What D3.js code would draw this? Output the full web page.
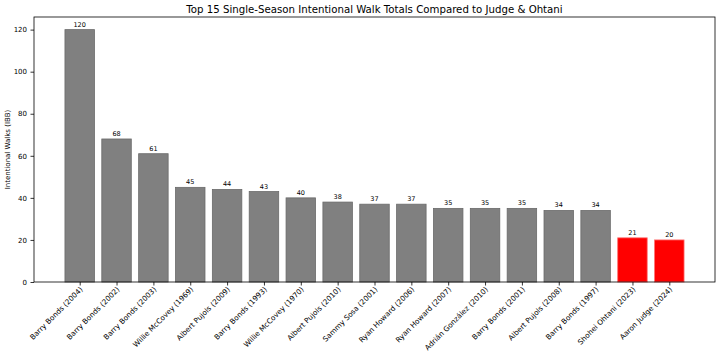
<!DOCTYPE html>
<html><head><meta charset="utf-8">
<script src="https://cdn.jsdelivr.net/npm/d3@7"></script>
<style>body{margin:0;background:#fff}svg{display:block}text{font-family:"DejaVu Sans",sans-serif}</style>
</head><body>
<script>
const categories = ["Barry Bonds (2004)","Barry Bonds (2002)","Barry Bonds (2003)","Willie McCovey (1969)","Albert Pujols (2009)","Barry Bonds (1993)","Willie McCovey (1970)","Albert Pujols (2010)","Sammy Sosa (2001)","Ryan Howard (2006)","Ryan Howard (2007)","Adrián González (2010)","Barry Bonds (2001)","Albert Pujols (2008)","Barry Bonds (1997)","Shohei Ohtani (2023)","Aaron Judge (2024)"];
const values = [120,68,61,45,44,43,40,38,37,37,35,35,35,34,34,21,20];
const highlight = ["Shohei Ohtani (2023)","Aaron Judge (2024)"];
const yTicks = [0,20,40,60,80,100,120];
const title = "Top 15 Single-Season Intentional Walk Totals Compared to Judge & Ohtani";
const yLabel = "Intentional Walks (IBB)";

const W=720,H=358, L=34, R=715, T=17, B=282;
const svg=d3.select("body").append("svg").attr("width",W).attr("height",H);
const n=categories.length, bw=0.8;
const x=d3.scaleLinear().domain([-bw/2-(n-1+bw)*0.05, n-1+bw/2+(n-1+bw)*0.05]).range([L,R]);
const y=d3.scaleLinear().domain([0,126]).range([B,T]);

svg.append("text").attr("x",(L+R)/2).attr("y",13).attr("text-anchor","middle").attr("font-size",10.2).text(title);

svg.selectAll("rect.bar").data(values).join("rect").attr("class","bar")
  .attr("x",(d,i)=>x(i-bw/2)).attr("width",x(bw)-x(0))
  .attr("y",d=>y(d)).attr("height",d=>y(0)-y(d))
  .attr("fill",(d,i)=>highlight.includes(categories[i])?"#ff0000":"#808080")
  .attr("stroke",(d,i)=>highlight.includes(categories[i])?"#ff7070":"#6a6a6a").attr("stroke-width",0.8);

svg.selectAll("text.val").data(values).join("text").attr("class","val")
  .attr("x",(d,i)=>x(i)).attr("y",d=>y(d)-3).attr("text-anchor","middle").attr("font-size",6.5).text(d=>d);

const yAxis=d3.axisLeft(y).tickValues(yTicks).tickSize(3.5).tickPadding(3.5);
const gy=svg.append("g").attr("transform",`translate(${L},0)`).call(yAxis);
gy.select(".domain").remove();
gy.selectAll("text").attr("font-size",7).attr("font-family","DejaVu Sans").attr("fill","#000");
gy.selectAll("line").attr("stroke","#000").attr("stroke-width",0.8);

const xAxis=d3.axisBottom(x).tickValues(d3.range(n)).tickFormat(i=>categories[i]).tickSize(3.5).tickPadding(3);
const gx=svg.append("g").attr("transform",`translate(0,${B})`).call(xAxis);
gx.select(".domain").remove();
gx.selectAll("line").attr("stroke","#000").attr("stroke-width",0.8);
gx.selectAll("text").attr("font-size",7.3).attr("font-family","DejaVu Sans").attr("fill","#000")
  .attr("text-anchor","end").attr("dy",null).attr("y",0).attr("x",0)
  .attr("transform","translate(3,8) rotate(-45)");

svg.append("rect").attr("x",L).attr("y",T).attr("width",R-L).attr("height",B-T).attr("fill","none").attr("stroke","#000").attr("stroke-width",0.8);

svg.append("text").attr("transform",`translate(10,${(T+B)/2}) rotate(-90)`).attr("text-anchor","middle").attr("font-size",7).text(yLabel);
</script>
</body></html>
